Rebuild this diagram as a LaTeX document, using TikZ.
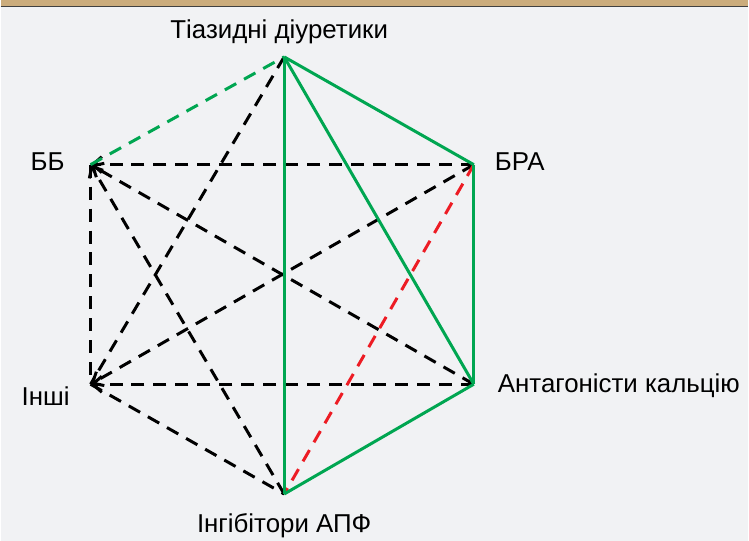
\documentclass[tikz,border=0pt]{standalone}
\usepackage{fontspec}
\setmainfont{Liberation Sans}
\usetikzlibrary{arrows.meta}
\definecolor{lgreen}{RGB}{0,166,81}
\definecolor{lred}{RGB}{237,28,36}
\definecolor{paper}{RGB}{241,242,244}
\definecolor{wood}{RGB}{203,172,124}
\tikzset{
  solidg/.style={draw=lgreen, line width=3bp},
  dashg/.style={draw=lgreen, line width=3bp, dash pattern=on 13bp off 9bp},
  dashr/.style={draw=lred, line width=3bp, dash pattern=on 13bp off 9bp},
  dashk/.style={draw=black, line width=3bp, dash pattern=on 13bp off 9bp},
  tipk/.style={-{Straight Barb[length=9bp,width=16bp,line width=3bp]}},
  lbl/.style={font=\fontsize{26}{30}\selectfont, inner sep=0pt}
}
\begin{document}
\begin{tikzpicture}[x=1bp,y=-1bp]
  \fill[paper] (0,0) rectangle (749,542);
  \fill[wood] (0,0) rectangle (749,6);
  \draw[black!75, line width=1.5bp] (0,6.5) -- (749,6.5);
  \useasboundingbox (0,0) rectangle (749,542);

  \coordinate (td) at (284,57);
  \coordinate (bb) at (90,165);
  \coordinate (bra) at (474,165);
  \coordinate (in) at (90,385);
  \coordinate (ak) at (474,385);
  \coordinate (apf) at (284,495);

  \node[lbl] (ltd) at (279,32) {Тіазидні діуретики};
  \node[lbl] (lbb) at (47,162) {ББ};
  \node[lbl] (lbra) at (520,162) {БРА};
  \node[lbl] (lin) at (45,397) {Інші};
  \node[lbl, anchor=west] (lak) at (498,386) {Антагоністи кальцію};
  \node[lbl] (lapf) at (284,527) {Інгібітори АПФ};

  % black dashed links
  \foreach \from/\to in {td/in,bb/in,in/apf}
    \draw[dashk] (\from) -- (\to);
  \foreach \from/\to in {bra/bb,ak/bb,apf/bb,ak/in,bra/in}
    \draw[dashk,tipk] (\from) -- (\to);

  % red and green
  \draw[dashr] (bra) -- (apf);
  \draw[dashg] (bb) -- (td);
  \foreach \from/\to in {td/bra,td/apf,td/ak,bra/ak,ak/apf}
    \draw[solidg, line join=round] (\from) -- (\to);
\end{tikzpicture}
\end{document}
